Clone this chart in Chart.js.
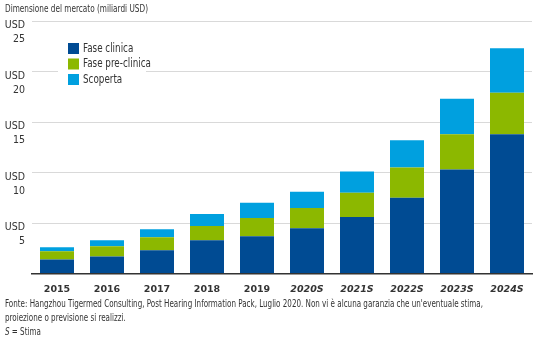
<!DOCTYPE html>
<html>
<head>
<meta charset="utf-8">
<script src="https://cdn.jsdelivr.net/npm/chart.js@4"></script>
<style>
  body { margin: 0; background: #fff; font-family: "DejaVu Sans", sans-serif; font-stretch: condensed; color: #333; }
  #wrap { position: relative; width: 537px; height: 341px; overflow: hidden; }
  #title { position: absolute; left: 5px; top: 2px; font-size: 11px; white-space: nowrap; transform-origin: 0 0; }
  #box { position: absolute; left: 0; top: 0; width: 537px; height: 297px; }
  #foot { position: absolute; left: 5px; top: 296px; font-size: 10.5px; line-height: 14px; white-space: nowrap; transform-origin: 0 0; }
</style>
</head>
<body>
<div id="wrap">
  <div id="box"><canvas id="c"></canvas></div>
  <div id="title">Dimensione del mercato (miliardi USD)</div>
  <div id="foot"><span id="l1">Fonte: Hangzhou Tigermed Consulting, Post Hearing Information Pack, Luglio 2020. Non vi è alcuna garanzia che un'eventuale stima,</span><br>proiezione o previsione si realizzi.<br><i>S</i> = Stima</div>
</div>
<script>
let years = ['2015','2016','2017','2018','2019','2020S','2021S','2022S','2023S','2024S'];
let clinica = [1.4, 1.7, 2.3, 3.3, 3.7, 4.5, 5.6, 7.5, 10.3, 13.8];
let preClinica = [0.8, 1.0, 1.3, 1.4, 1.8, 2.0, 2.4, 3.0, 3.5, 4.1];
let scoperta = [0.4, 0.6, 0.8, 1.2, 1.5, 1.6, 2.1, 2.7, 3.5, 4.4];
let yTicks = [5, 10, 15, 20, 25];

let labelFont = '"DejaVu Sans", sans-serif';

// squeeze the html text to the narrow width of the original
function squeeze(el, w, ref) {
  let s = w / (ref || el).getBoundingClientRect().width;
  el.style.transform = 'scaleX(' + s + ')';
}
squeeze(document.getElementById('title'), 143);
squeeze(document.getElementById('foot'), 478, document.getElementById('l1'));

// condensed text on the canvas too
const narrow = {
  id: 'narrow',
  beforeDraw(chart) { chart.ctx.fontStretch = 'condensed'; }
};

// legend drawn inside the plot, with a white box over the gridline
const boxLegend = {
  id: 'boxLegend',
  afterDatasetsDraw(chart) {
    const ctx = chart.ctx;
    ctx.save();
    ctx.fillStyle = '#fff';
    ctx.fillRect(58, 38, 88, 50);
    chart.data.datasets.forEach((ds, i) => {
      let y = 43 + i * 15.5;
      ctx.fillStyle = ds.backgroundColor;
      ctx.fillRect(68, y, 11, 11);
      ctx.save();
      ctx.translate(83, y + 6);
      ctx.scale(0.85, 1);
      ctx.fillStyle = '#333';
      ctx.font = '11.5px ' + labelFont;
      ctx.fontStretch = 'condensed';
      ctx.textBaseline = 'middle';
      ctx.fillText(ds.label, 0, 0);
      ctx.restore();
    });
    ctx.restore();
  }
};

new Chart(document.getElementById('c'), {
  type: 'bar',
  data: {
    labels: years,
    datasets: [
      { label: 'Fase clinica', data: clinica, backgroundColor: '#004b93' },
      { label: 'Fase pre-clinica', data: preClinica, backgroundColor: '#8cb800' },
      { label: 'Scoperta', data: scoperta, backgroundColor: '#00a0df' }
    ]
  },
  options: {
    responsive: true,
    maintainAspectRatio: false,
    animation: false,
    layout: { padding: { top: 10, right: 5, bottom: 0, left: 0 } },
    plugins: { legend: { display: false }, tooltip: { enabled: false } },
    datasets: { bar: { barPercentage: 0.68, categoryPercentage: 1 } },
    scales: {
      x: {
        stacked: true,
        grid: { display: false },
        border: { color: '#333', width: 1.5 },
        ticks: {
          color: '#333',
          padding: 2,
          font: (c) => ({ family: labelFont, size: 9.5, weight: 'bold',
            style: (c.tick && c.tick.label.endsWith('S')) ? 'italic' : 'normal' })
        }
      },
      y: {
        stacked: true,
        min: 0,
        max: 25,
        afterFit: (s) => { s.width = 32; },
        afterBuildTicks: (s) => { s.ticks = [0].concat(yTicks).map(v => ({ value: v })); },
        border: { display: false },
        grid: {
          drawTicks: false,
          color: (c) => c.tick && c.tick.value === 0 ? 'rgba(0,0,0,0)' : '#d9d9d9'
        },
        ticks: {
          color: '#333',
          padding: 7,
          labelOffset: 11.5,
          font: { family: labelFont, size: 10.5, lineHeight: '14px' },
          callback: (v) => v === 0 ? '' : ['USD', String(v)]
        }
      }
    }
  },
  plugins: [narrow, boxLegend]
});
</script>
</body>
</html>
